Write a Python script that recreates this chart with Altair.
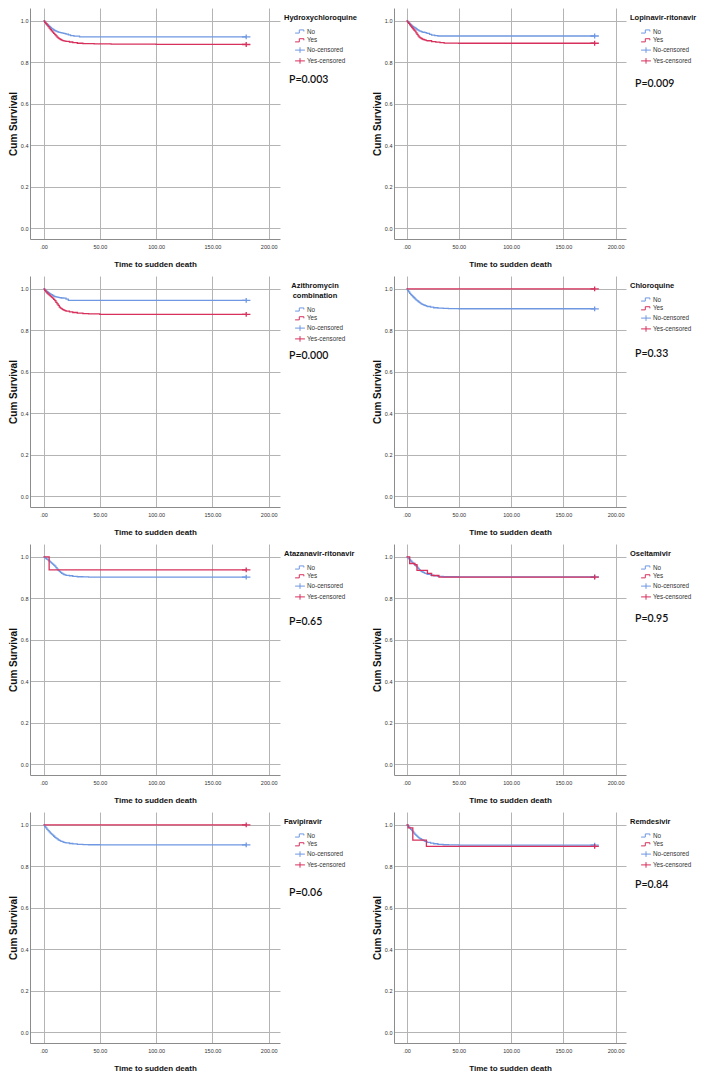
import altair as alt
import pandas as pd

# ---------------- data ----------------
DRUGS = [["Hydroxychloroquine"], ["Lopinavir-ritonavir"], ["Azithromycin", "combination"],
         ["Chloroquine"], ["Atazanavir-ritonavir"], ["Oseltamivir"], ["Favipiravir"], ["Remdesivir"]]
P_VALUES = ["P=0.003", "P=0.009", "P=0.000", "P=0.33", "P=0.65", "P=0.95", "P=0.06", "P=0.84"]
GROUPS = ["No", "Yes"]
ENTRIES = ["No", "Yes", "No-censored", "Yes-censored"]
X_TICKS = [0, 50, 100, 150, 200]
Y_TICKS = [0.0, 0.2, 0.4, 0.6, 0.8, 1.0]

DAILY_T = [0, 1, 2, 3, 4, 5, 6, 7, 8, 9, 10, 11, 12, 13, 14, 15, 16, 17, 18, 19, 20]

HCQ_NO_T = DAILY_T + [22, 24, 27, 32, 180]
HCQ_NO_S = [1.0, .994, .988, .983, .978, .973, .968, .964, .960, .956, .953, .950, .948, .946, .944, .943, .942, .941, .940, .938, .936,
            .932, .929, .926, .923, .923]
HCQ_YES_T = DAILY_T + [23, 26, 30, 35, 45, 60, 100, 180]
HCQ_YES_S = [1.0, .993, .986, .979, .972, .965, .958, .952, .946, .940, .934, .928, .922, .917, .913, .910, .907, .905, .903, .902, .901,
             .898, .895, .892, .890, .889, .888, .887, .886]

LPV_NO_T = DAILY_T + [22, 24, 27, 30, 180]
LPV_NO_S = [1.0, .995, .990, .985, .980, .976, .972, .969, .966, .962, .958, .955, .952, .950, .948, .946, .945, .944, .943, .941, .940,
            .935, .931, .929, .927, .927]
LPV_YES_T = DAILY_T + [24, 28, 32, 36, 50, 180]
LPV_YES_S = [1.0, .994, .988, .981, .975, .968, .962, .956, .950, .942, .935, .928, .922, .918, .915, .912, .910, .908, .907, .905, .904,
             .900, .897, .895, .893, .892, .892]

AZM_NO_T = DAILY_T + [22, 180]
AZM_NO_S = [1.0, .995, .990, .986, .982, .978, .975, .972, .968, .965, .963, .961, .960, .959, .958, .957, .956, .956, .955, .955, .950,
            .944, .944]
AZM_YES_T = DAILY_T + [23, 26, 30, 35, 40, 50, 180]
AZM_YES_S = [1.0, .993, .985, .980, .975, .970, .965, .960, .955, .949, .943, .935, .928, .920, .912, .907, .903, .900, .897, .895, .893,
             .889, .886, .883, .881, .879, .877, .877]

CQ_NO_T = DAILY_T + [23, 26, 30, 35, 40, 50, 180]
CQ_NO_S = [1.0, .992, .985, .978, .972, .967, .962, .957, .952, .947, .943, .939, .935, .931, .928, .925, .923, .921, .919, .917, .915,
           .912, .909, .907, .906, .905, .904, .903]
CQ_YES_T = [0, 180]
CQ_YES_S = [1.0, 1.0]

ATV_NO_T = DAILY_T + [23, 26, 30, 35, 40, 180]
ATV_NO_S = [1.0, .996, .992, .988, .984, .979, .975, .970, .965, .960, .955, .948, .941, .935, .930, .925, .921, .918, .915, .913, .911,
            .909, .906, .904, .903, .902, .902]
ATV_YES_T = [0, 5, 180]
ATV_YES_S = [1.0, 0.937, 0.937]

OSE_NO_T = DAILY_T + [23, 26, 30, 35, 50, 180]
OSE_NO_S = [1.0, .995, .990, .985, .980, .975, .970, .965, .960, .955, .950, .944, .938, .934, .930, .927, .925, .922, .920, .918, .916,
            .912, .909, .906, .904, .903, .903]
OSE_YES_T = [0, 3, 8, 10, 20, 24, 31, 180]
OSE_YES_S = [1.0, 0.968, 0.962, 0.935, 0.920, 0.910, 0.902, 0.902]

FAV_NO_T = DAILY_T + [23, 26, 30, 35, 40, 50, 180]
FAV_NO_S = [1.0, .992, .985, .978, .972, .966, .960, .955, .950, .945, .940, .936, .932, .928, .925, .922, .920, .918, .916, .914, .913,
            .910, .908, .906, .905, .904, .903, .903]
FAV_YES_T = [0, 180]
FAV_YES_S = [1.0, 1.0]

REM_NO_T = DAILY_T + [23, 26, 30, 35, 40, 50, 180]
REM_NO_S = [1.0, .995, .990, .984, .978, .972, .966, .960, .954, .949, .944, .940, .936, .933, .930, .927, .925, .922, .920, .918, .916,
            .912, .909, .906, .904, .903, .902, .902]
REM_YES_T = [0, 1.5, 6, 19, 180]
REM_YES_S = [1.0, 0.985, 0.926, 0.896, 0.896]

SERIES = [
    (HCQ_NO_T, HCQ_NO_S, HCQ_YES_T, HCQ_YES_S),
    (LPV_NO_T, LPV_NO_S, LPV_YES_T, LPV_YES_S),
    (AZM_NO_T, AZM_NO_S, AZM_YES_T, AZM_YES_S),
    (CQ_NO_T, CQ_NO_S, CQ_YES_T, CQ_YES_S),
    (ATV_NO_T, ATV_NO_S, ATV_YES_T, ATV_YES_S),
    (OSE_NO_T, OSE_NO_S, OSE_YES_T, OSE_YES_S),
    (FAV_NO_T, FAV_NO_S, FAV_YES_T, FAV_YES_S),
    (REM_NO_T, REM_NO_S, REM_YES_T, REM_YES_S),
]

# ---------------- styling ----------------
BLUE = "#6F98E2"
RED = "#D7305C"
STEP = "M-1.4,0.45H-0.2V-0.45H1.1V0"
PLUS = "M-1.4,0H1.4M0,-0.8V0.8"
SANS = "Liberation Sans, Arial, sans-serif"
H = 231
WIDTHS = [250, 232]
P_Y = [72, 76, 80, 78, 78, 75, 81, 73]


def panel(i):
    no_t, no_s, yes_t, yes_s = SERIES[i]
    w = WIDTHS[i % 2]
    lines = pd.DataFrame(
        [{"t": t, "s": s, "group": "No"} for t, s in zip(no_t, no_s)]
        + [{"t": t, "s": s, "group": "Yes"} for t, s in zip(yes_t, yes_s)]
    )
    cens = pd.DataFrame([
        {"t": no_t[-1], "s": no_s[-1], "entry": "No-censored"},
        {"t": yes_t[-1], "s": yes_s[-1], "entry": "Yes-censored"},
    ])
    two = len(DRUGS[i]) > 1
    title = DRUGS[i] if two else DRUGS[i][0]
    leg_kwargs = dict(
        title=title, orient="none", legendX=w + 4, legendY=6,
        symbolOffset=12, symbolSize=49, symbolStrokeWidth=1, symbolOpacity=1,
        labelFont=SANS, labelFontSize=6.3, labelColor="#333333", labelOffset=3,
        titleFont=SANS, titleFontSize=7.5, titleFontWeight="bold", titleColor="#111111",
        titlePadding=6, rowPadding=0.8, padding=0, titleLimit=300,
    )
    if two:
        leg_kwargs.update(titleAnchor="middle", titleAlign="center", titleLineHeight=10)
    leg = alt.Legend(**leg_kwargs)

    xenc = alt.X("t:Q", scale=alt.Scale(domain=[-12, 210], nice=False, zero=False),
                 axis=alt.Axis(values=X_TICKS, title="Time to sudden death",
                               labelExpr="datum.value == 0 ? '.00' : format(datum.value, '.2f')"))
    yenc = alt.Y("s:Q", scale=alt.Scale(domain=[-0.052, 1.062], nice=False, zero=False),
                 axis=alt.Axis(values=Y_TICKS, format=".1f", title="Cum Survival"))

    line_layer = alt.Chart(lines).mark_line(interpolate="step-after", strokeWidth=1.3).encode(
        x=xenc, y=yenc,
        stroke=alt.Stroke("group:N", scale=alt.Scale(domain=GROUPS, range=[BLUE, RED]), legend=None),
    )
    pt_layer = alt.Chart(cens).mark_point(filled=False, strokeWidth=1.3, size=36, opacity=1).encode(
        x="t:Q", y="s:Q",
        color=alt.Color("entry:N", scale=alt.Scale(domain=ENTRIES, range=[BLUE, RED, BLUE, RED]), legend=leg),
        shape=alt.Shape("entry:N", scale=alt.Scale(domain=ENTRIES, range=[STEP, STEP, PLUS, PLUS]), legend=leg),
    )
    p_layer = alt.Chart(pd.DataFrame({"p": [P_VALUES[i]]})).mark_text(
        align="left", baseline="middle", font="Lato", fontSize=10.5, fontWeight=600, color="#111111"
    ).encode(x=alt.value(w + 9), y=alt.value(P_Y[i]), text="p:N")

    return alt.layer(line_layer, pt_layer, p_layer).properties(width=w, height=H)


panels = [panel(i) for i in range(8)]

chart = alt.concat(*panels, columns=2).properties(
    spacing={"row": 37, "column": 114}, bounds="flush", padding=0
).resolve_scale(
    color="independent", shape="independent", stroke="independent"
).resolve_legend(
    color="independent", shape="independent"
).configure_view(stroke=None).configure_axis(
    grid=True, gridColor="#B4B4B4", gridWidth=1, domainColor="#8C8C8C", domainWidth=1,
    ticks=False, labelFont=SANS, labelFontSize=5.5, labelColor="#333333",
).configure_axisX(
    labelPadding=5, titleFont=SANS, titleFontSize=8, titleFontWeight="bold",
    titleColor="#111111", titlePadding=11,
).configure_axisY(
    labelPadding=2, titleFont=SANS, titleFontSize=10,
    titleFontWeight="bold", titleColor="#111111", titlePadding=2,
)

chart.save("out.html", embed_options={"renderer": "svg", "actions": False})
